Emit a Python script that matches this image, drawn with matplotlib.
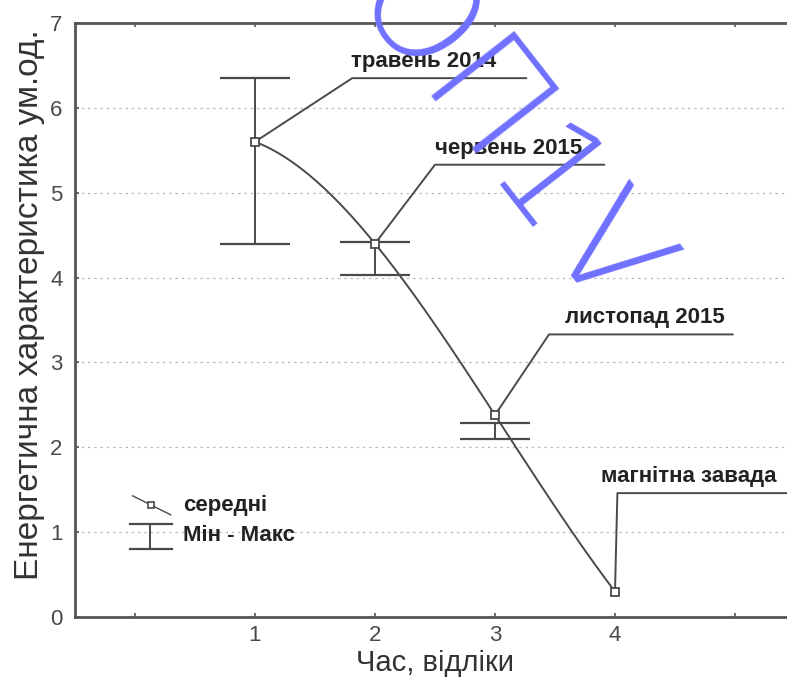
import numpy as np
import matplotlib
matplotlib.use("Agg")
import matplotlib.pyplot as plt

# measurements
t = np.array([1, 2, 3, 4])
mean_val = np.array([5.60, 4.40, 2.38, 0.30])
min_val = np.array([4.40, 4.03, 2.10, np.nan])
max_val = np.array([6.35, 4.42, 2.29, np.nan])

labels = ["травень 2014", "червень 2015", "листопад 2015", "магнітна завада"]
# leader line layout: elbow point, end of underline, text anchor
elbow_x = [1.81, 2.50, 3.45, 4.02]
elbow_y = [6.35, 5.33, 3.33, 1.46]
line_end = [3.26, 3.91, 4.98, 5.6]
text_x = [1.80, 2.50, 3.58, 3.88]

grey = "#4a4a4a"
sans = ["Liberation Sans", "DejaVu Sans"]

fig = plt.figure(figsize=(7.87, 6.8), dpi=100)
ax = fig.add_axes([75 / 787, 63 / 680, 720 / 787, 594 / 680])
ax.set_xlim(-0.5, 5.5)
ax.set_ylim(0, 7)

# horizontal dotted grid
for yy in range(1, 7):
    ax.axhline(yy, color="#bbbbbb", lw=0.9, ls=(0, (2, 3)), zorder=0)

# smooth curve through the means
coef = np.polyfit(t, mean_val, 3)
xs = np.linspace(t[0], t[-1], 200)
ax.plot(xs, np.polyval(coef, xs), color=grey, lw=1.4, zorder=2)
ax.plot(t, mean_val, ls="none", marker="s", ms=6, mfc="white", mec=grey,
        mew=1.3, zorder=4)

# min-max bars
ok = ~np.isnan(min_val)
ax.vlines(t[ok], min_val[ok], max_val[ok], color=grey, lw=1.4, zorder=3)
for x0, lo, hi in zip(t[ok], min_val[ok], max_val[ok]):
    ax.hlines([lo, hi], x0 - 0.29, x0 + 0.29, color=grey, lw=1.6, zorder=3)

# labels with leader lines
for i, lab in enumerate(labels):
    ax.plot([t[i], elbow_x[i], line_end[i]],
            [mean_val[i], elbow_y[i], elbow_y[i]],
            color=grey, lw=1.4, zorder=3, clip_on=False)
    ax.text(text_x[i], elbow_y[i] + 0.07, lab, ha="left", va="bottom",
            fontsize=16, fontweight="bold", color="#222222",
            family=sans, zorder=5)

# legend key, drawn in axes fraction
tr = ax.transAxes
ax.plot([0.080, 0.133], [0.204, 0.172], color=grey, lw=1.0, transform=tr)
ax.plot([0.106], [0.188], marker="s", ms=5, mfc="white", mec=grey, mew=1.2,
        transform=tr)
ax.plot([0.104, 0.104], [0.157, 0.115], color=grey, lw=1.4, transform=tr)
ax.plot([0.076, 0.135], [0.157, 0.157], color=grey, lw=1.6, transform=tr)
ax.plot([0.076, 0.135], [0.115, 0.115], color=grey, lw=1.6, transform=tr)
ax.text(0.150, 0.188, "середні", transform=tr, ha="left", va="center",
        fontsize=16, fontweight="bold", color="#222222", family=sans)
ax.text(0.150, 0.137, "Мін - Макс", transform=tr, ha="left", va="center",
        fontsize=16, fontweight="bold", color="#222222", family=sans)

# axes styling
for side in ["left", "bottom", "top"]:
    ax.spines[side].set_color("#555555")
    ax.spines[side].set_linewidth(2)
ax.spines["right"].set_visible(False)
ax.set_xticks(range(0, 6))
ax.set_xticklabels(["", "1", "2", "3", "4", ""])
ax.set_yticks(range(0, 8))
ax.tick_params(axis="both", direction="in", length=3, width=1.2,
               color="#555555", labelcolor="#4a4a4a", labelsize=16, pad=9)
ax.tick_params(axis="x", top=True, pad=6)
for lab in ax.get_xticklabels() + ax.get_yticklabels():
    lab.set_family(sans)
ax.set_ylabel("Енергетична характеристика ум.од.", fontsize=24,
              color="#333333", family=sans)
ax.yaxis.set_label_coords(-0.042, 0.525)
ax.set_xlabel("Час, відліки", fontsize=21, color="#333333", family=sans,
              labelpad=2)

# stamp across the plot
fig.text(503 / 787, 1 - 140 / 680, "ОП1V", rotation=-52, fontsize=104,
         color="#7070ff", ha="center", va="center", family="DejaVu Sans",
         fontweight="light", zorder=10)

fig.savefig("out.png", dpi=100)
